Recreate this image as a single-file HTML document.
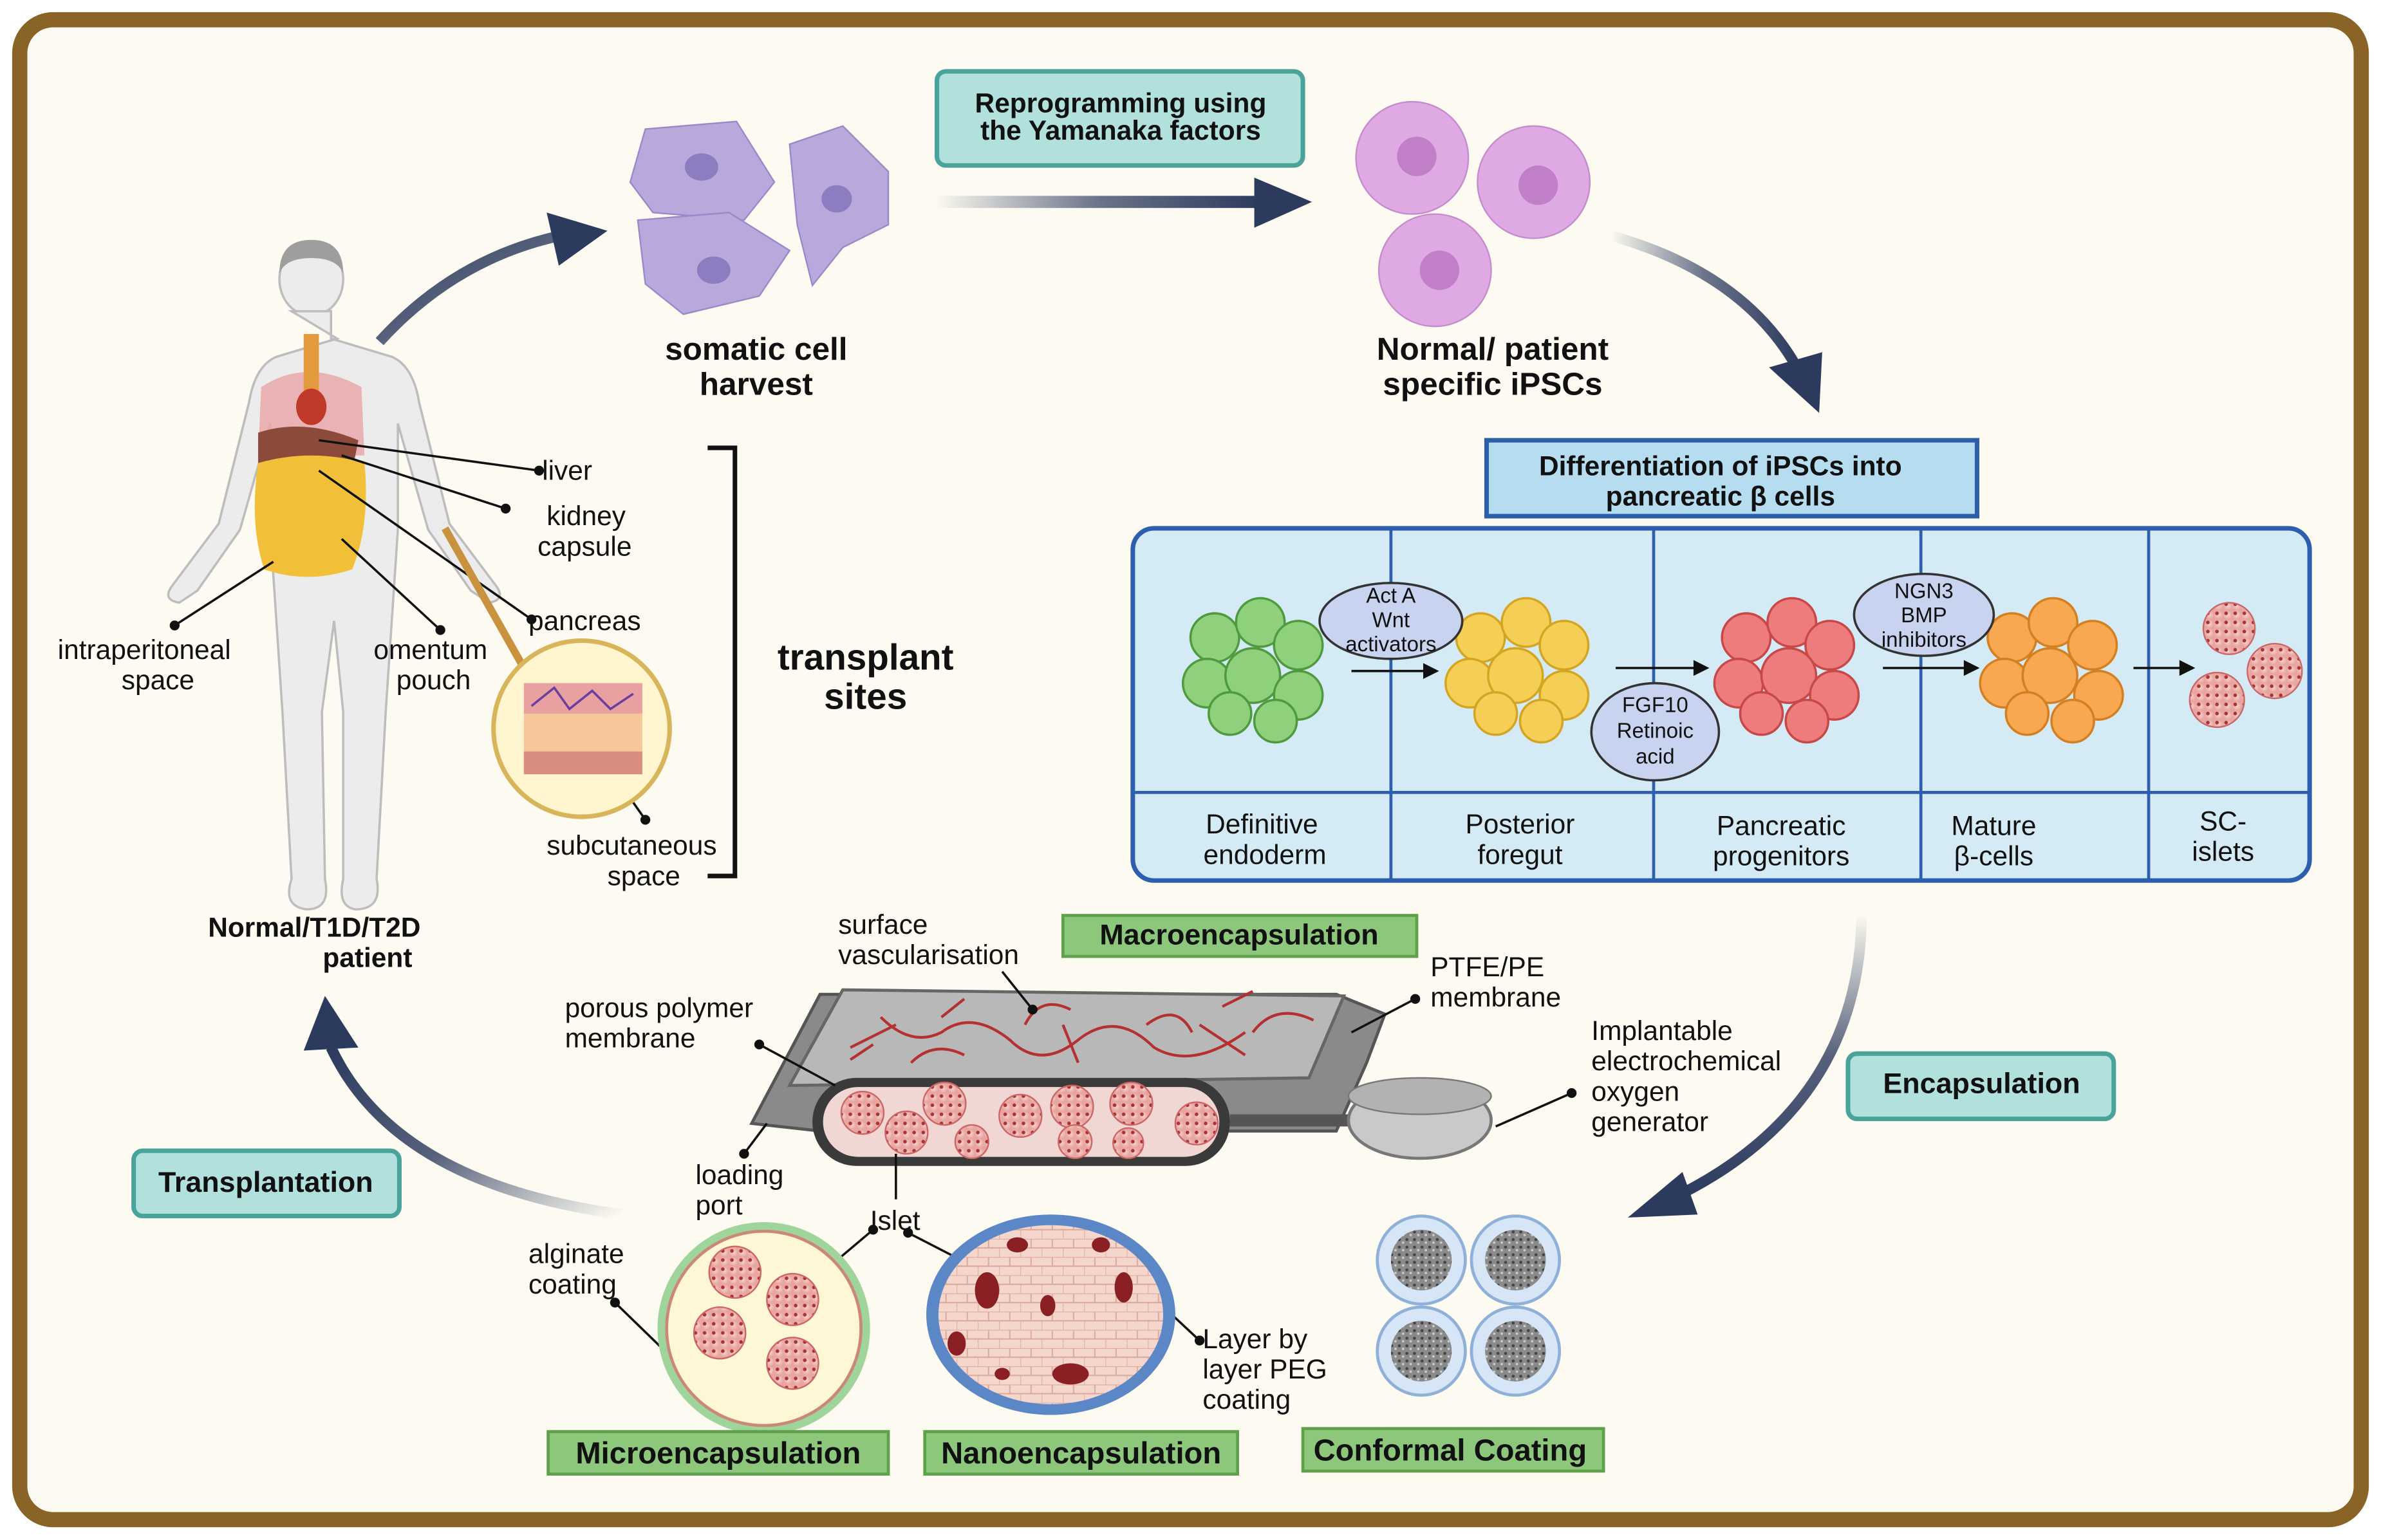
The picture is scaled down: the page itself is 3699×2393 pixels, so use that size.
<!DOCTYPE html>
<html><head><meta charset="utf-8"><style>
html,body{margin:0;padding:0;background:#fff}
svg{display:block}
text{font-family:"Liberation Sans",Arial,sans-serif;fill:#111}
.b{font-weight:bold}
</style></head><body>
<svg width="3699" height="2393" viewBox="0 0 1568 1014.4" xmlns="http://www.w3.org/2000/svg">
<defs>
<linearGradient id="ga" x1="0" x2="1" y1="0" y2="0"><stop offset="0" stop-color="#2c3a5e" stop-opacity="0"/><stop offset="0.5" stop-color="#2c3a5e" stop-opacity="0.7"/><stop offset="1" stop-color="#2c3a5e"/></linearGradient>
<linearGradient id="gv" x1="0" x2="0" y1="0" y2="1"><stop offset="0" stop-color="#2c3a5e" stop-opacity="0"/><stop offset="0.5" stop-color="#2c3a5e" stop-opacity="0.8"/><stop offset="1" stop-color="#2c3a5e"/></linearGradient>
<linearGradient id="gl" x1="1" x2="0" y1="1" y2="0"><stop offset="0" stop-color="#2c3a5e" stop-opacity="0"/><stop offset="0.5" stop-color="#2c3a5e" stop-opacity="0.8"/><stop offset="1" stop-color="#2c3a5e"/></linearGradient>
<radialGradient id="islet"><stop offset="0" stop-color="#f6d3d0"/><stop offset="1" stop-color="#e8a5a0"/></radialGradient>
<pattern id="dots" width="6" height="6" patternUnits="userSpaceOnUse"><rect width="6" height="6" fill="url(#islet)"/><circle cx="2" cy="2" r="1.2" fill="#a33"/></pattern>
<pattern id="cells" width="14" height="12" patternUnits="userSpaceOnUse"><rect width="14" height="12" fill="#f4d6cc"/><path d="M0 0 h14 M0 6 h14 M7 0 v6 M0 6 v6" stroke="#d9a89a" stroke-width="0.8" fill="none"/></pattern>
<pattern id="grey" width="5" height="5" patternUnits="userSpaceOnUse"><rect width="5" height="5" fill="#8a8a8a"/><circle cx="1.5" cy="1.5" r="1" fill="#444"/><circle cx="4" cy="3.5" r="0.8" fill="#ccc"/></pattern>
</defs>
<rect x="0" y="0" width="1568" height="1014.4" fill="#fff"/>
<rect x="13" y="13" width="1542" height="988" rx="22" fill="#fdfbf1" stroke="#8a6327" stroke-width="10"/>

<!-- human -->
<g fill="#ececec" stroke="#bdbdbd" stroke-width="1.5">
<ellipse cx="205" cy="184" rx="21" ry="24"/>
<path d="M192 205 h26 v18 l40 12 q14 6 18 30 l20 80 l30 40 q8 10 -4 12 l-12 -8 l-28 -40 l-20 -70 v70 l-8 120 l-6 110 q4 20 -14 20 q-12 -2 -8 -20 l0 -110 l-6 -60 l-8 60 l2 110 q4 20 -12 20 q-16 -2 -10 -20 l-6 -110 l-8 -120 v-70 l-20 70 l-28 40 l-12 8 q-12 -2 -4 -12 l30 -40 l20 -80 q4 -24 18 -30 l40 -12z"/>
</g>
<path d="M184 180 q0 -22 21 -22 q21 0 21 22 q-4 -10 -21 -10 q-17 0 -21 10z" fill="#9e9e9e"/>
<path d="M172 255 q30 -20 66 0 l2 45 h-70z" fill="#e9a5a8" opacity=".8"/>
<rect x="200" y="220" width="10" height="50" fill="#e29a3c"/>
<path d="M170 285 q30 -10 66 5 l-4 20 q-30 5 -62 -5z" fill="#8b4a3a"/>
<path d="M170 305 q35 -10 70 0 q4 40 -8 70 q-30 10 -58 0 q-10 -30 -4 -70z" fill="#f2c038"/>
<ellipse cx="205" cy="268" rx="10" ry="12" fill="#c0392b"/>

<g stroke="#111" stroke-width="1.5" fill="#111">
<line x1="210" y1="290" x2="355" y2="310"/><circle cx="355" cy="310" r="2.5"/>
<line x1="225" y1="300" x2="333" y2="335"/><circle cx="333" cy="335" r="2.5"/>
<line x1="210" y1="310" x2="350" y2="408"/><circle cx="350" cy="408" r="2.5"/>
<line x1="180" y1="370" x2="115" y2="412"/><circle cx="115" cy="412" r="2.5"/>
<line x1="225" y1="355" x2="290" y2="415"/><circle cx="290" cy="415" r="2.5"/>
<line x1="390" y1="490" x2="425" y2="540"/><circle cx="425" cy="540" r="2.5"/>
</g>
<line x1="293" y1="348" x2="345" y2="440" stroke="#c9923e" stroke-width="5"/>
<circle cx="383" cy="480" r="58" fill="#fff5cf" stroke="#d8b45a" stroke-width="3"/>
<rect x="345" y="450" width="78" height="60" fill="#f5c79b"/>
<rect x="345" y="450" width="78" height="20" fill="#e8a0a0"/>
<rect x="345" y="495" width="78" height="15" fill="#d98c80"/>
<path d="M350 465 l15 -12 l10 14 l15 -12 l12 12 l15 -10" stroke="#6a3ea0" stroke-width="1.5" fill="none"/>

<g font-size="18" text-anchor="start">
<text x="357" y="316">liver</text>
<text x="360" y="346">kidney</text><text x="354" y="366">capsule</text>
<text x="348" y="415">pancreas</text>
<text x="38" y="434">intraperitoneal</text><text x="80" y="454">space</text>
<text x="246" y="434">omentum</text><text x="261" y="454">pouch</text>
<text x="360" y="563">subcutaneous</text><text x="400" y="583">space</text>
</g>
<path d="M466 295 h18 v282 h-18" fill="none" stroke="#111" stroke-width="3"/>
<text x="570" y="441" font-size="24" class="b" text-anchor="middle">transplant</text>
<text x="570" y="467" font-size="24" class="b" text-anchor="middle">sites</text>
<text x="207" y="617" font-size="18" class="b" text-anchor="middle">Normal/T1D/T2D</text>
<text x="242" y="637" font-size="18" class="b" text-anchor="middle">patient</text>

<path d="M250 225 Q300 170 370 155" stroke="url(#gl)" stroke-width="7" fill="none"/>
<path d="M360 140 L400 152 L368 175z" fill="#2c3a5e"/>
<rect x="615" y="129" width="215" height="8" fill="url(#ga)"/>
<path d="M826 117 L864 133 L826 150z" fill="#2c3a5e"/>
<path d="M1060 155 Q1150 180 1185 245" stroke="url(#ga)" stroke-width="7" fill="none"/>
<path d="M1165 242 L1198 272 L1200 232z" fill="#2c3a5e"/>
<path d="M1226 602 Q1225 730 1100 790" stroke="url(#gv)" stroke-width="7" fill="none"/>
<path d="M1108 772 L1072 802 L1118 800z" fill="#2c3a5e"/>
<path d="M410 800 Q260 780 218 690" stroke="url(#gl)" stroke-width="7" fill="none"/>
<path d="M200 692 L214 656 L236 690z" fill="#2c3a5e"/>

<g fill="#b8a8dc" stroke="#9a88c8">
<path d="M425 85 l60 -5 l25 40 l-20 25 l-60 -5 l-15 -20z"/>
<path d="M520 95 l35 -12 l30 30 l0 35 l-30 15 l-20 25 l-10 -40z"/>
<path d="M420 145 l60 -5 l40 25 l-20 30 l-50 12 l-25 -20z"/>
</g>
<g fill="#8c7cc0"><ellipse cx="462" cy="110" rx="11" ry="9"/><ellipse cx="551" cy="131" rx="10" ry="9"/><ellipse cx="470" cy="178" rx="11" ry="9"/></g>
<text x="498" y="237" font-size="21" class="b" text-anchor="middle">somatic cell</text>
<text x="498" y="260" font-size="21" class="b" text-anchor="middle">harvest</text>

<rect x="617" y="47" width="241" height="62" rx="6" fill="#b2e0dc" stroke="#4aa39b" stroke-width="3"/>
<text x="738" y="74" font-size="18" class="b" text-anchor="middle">Reprogramming using</text>
<text x="738" y="92" font-size="18" class="b" text-anchor="middle">the Yamanaka factors</text>

<g fill="#dfaae4" stroke="#c58bcc"><circle cx="930" cy="104" r="37"/><circle cx="1010" cy="120" r="37"/><circle cx="945" cy="178" r="37"/></g>
<g fill="#c07fc6"><circle cx="933" cy="103" r="13"/><circle cx="1013" cy="122" r="13"/><circle cx="948" cy="178" r="13"/></g>
<text x="983" y="237" font-size="21" class="b" text-anchor="middle">Normal/ patient</text>
<text x="983" y="260" font-size="21" class="b" text-anchor="middle">specific iPSCs</text>

<rect x="979" y="290" width="323" height="50" fill="#b6dcf0" stroke="#2d5fa8" stroke-width="3"/>
<text x="1133" y="313" font-size="18" class="b" text-anchor="middle">Differentiation of iPSCs into</text>
<text x="1133" y="333" font-size="18" class="b" text-anchor="middle">pancreatic β cells</text>
<rect x="746" y="348" width="775" height="232" rx="14" fill="#d4eaf5" stroke="#2e5fae" stroke-width="3"/>
<g stroke="#2e5fae" stroke-width="2"><line x1="916" y1="348" x2="916" y2="580"/><line x1="1089" y1="348" x2="1089" y2="580"/><line x1="1265" y1="348" x2="1265" y2="580"/><line x1="1415" y1="348" x2="1415" y2="580"/><line x1="746" y1="522" x2="1521" y2="522"/></g>
<g font-size="18" text-anchor="middle">
<text x="831" y="549">Definitive</text><text x="833" y="569">endoderm</text>
<text x="1001" y="549">Posterior</text><text x="1001" y="569">foregut</text>
<text x="1173" y="550">Pancreatic</text><text x="1173" y="570">progenitors</text>
<text x="1313" y="550">Mature</text><text x="1313" y="570">β-cells</text>
<text x="1464" y="547">SC-</text><text x="1464" y="567">islets</text>
</g>
<g fill="#8fd07c" stroke="#4e9a3e" stroke-width="1.5">
<circle cx="800" cy="420" r="16"/><circle cx="830" cy="410" r="16"/><circle cx="855" cy="425" r="16"/><circle cx="795" cy="450" r="16"/><circle cx="825" cy="445" r="18"/><circle cx="855" cy="458" r="16"/><circle cx="810" cy="470" r="14"/><circle cx="840" cy="475" r="14"/></g>
<g fill="#f5cf55" stroke="#d4a520" stroke-width="1.5">
<circle cx="975" cy="420" r="16"/><circle cx="1005" cy="410" r="16"/><circle cx="1030" cy="425" r="16"/><circle cx="968" cy="450" r="16"/><circle cx="998" cy="445" r="18"/><circle cx="1030" cy="458" r="16"/><circle cx="985" cy="470" r="14"/><circle cx="1015" cy="475" r="14"/></g>
<g fill="#ef7c7c" stroke="#c84848" stroke-width="1.5">
<circle cx="1150" cy="420" r="16"/><circle cx="1180" cy="410" r="16"/><circle cx="1205" cy="425" r="16"/><circle cx="1145" cy="450" r="16"/><circle cx="1178" cy="445" r="18"/><circle cx="1208" cy="458" r="16"/><circle cx="1160" cy="470" r="14"/><circle cx="1190" cy="475" r="14"/></g>
<g fill="#f8a850" stroke="#d47f20" stroke-width="1.5">
<circle cx="1325" cy="420" r="16"/><circle cx="1352" cy="410" r="16"/><circle cx="1378" cy="425" r="16"/><circle cx="1320" cy="450" r="16"/><circle cx="1350" cy="445" r="18"/><circle cx="1382" cy="458" r="16"/><circle cx="1335" cy="470" r="14"/><circle cx="1365" cy="475" r="14"/></g>
<g fill="url(#dots)" stroke="#c66" stroke-width="1"><circle cx="1468" cy="414" r="17"/><circle cx="1460" cy="461" r="18"/><circle cx="1498" cy="442" r="18"/></g>
<g stroke="#111" stroke-width="1.5" fill="#111">
<line x1="890" y1="442" x2="940" y2="442"/><path d="M946 442 l-8 -4 v8z"/>
<line x1="1064" y1="440" x2="1118" y2="440"/><path d="M1124 440 l-8 -4 v8z"/>
<line x1="1240" y1="440" x2="1296" y2="440"/><path d="M1302 440 l-8 -4 v8z"/>
<line x1="1405" y1="440" x2="1438" y2="440"/><path d="M1444 440 l-8 -4 v8z"/>
</g>
<g fill="#c8d3ef" stroke="#333" stroke-width="1.5">
<ellipse cx="916" cy="409" rx="47" ry="25"/><ellipse cx="1090" cy="482" rx="42" ry="32"/><ellipse cx="1267" cy="405" rx="46" ry="27"/></g>
<g font-size="14" text-anchor="middle">
<text x="916" y="397">Act A</text><text x="916" y="413">Wnt</text><text x="916" y="429">activators</text>
<text x="1090" y="469">FGF10</text><text x="1090" y="486">Retinoic</text><text x="1090" y="503">acid</text>
<text x="1267" y="394">NGN3</text><text x="1267" y="410">BMP</text><text x="1267" y="426">inhibitors</text>
</g>

<path d="M540 655 L880 655 L912 668 L900 700 L880 745 L540 745 L495 740 Z" fill="#8a8a8a" stroke="#555" stroke-width="2"/>
<path d="M555 652 L885 656 L862 710 L520 715 Z" fill="#b8b8b8" stroke="#666" stroke-width="2"/>
<g stroke="#b53030" stroke-width="1.8" fill="none">
<path d="M580 670 q20 20 40 10 q20 -15 45 5 q20 20 45 0 q25 -20 50 5 q25 15 60 -10"/>
<path d="M600 700 q15 -15 35 -5 m40 -20 q10 -20 30 -10 m50 10 q20 -15 30 5 m40 0 q15 -20 40 -8"/>
<path d="M560 690 l30 -15 m200 0 l30 20 m-120 -20 l10 25 m-90 -30 l15 -12 m170 5 l20 -10 m-250 35 l-15 10"/>
</g>
<rect x="535" y="710" width="275" height="58" rx="29" fill="#3a3a3a"/>
<rect x="542" y="716" width="261" height="46" rx="23" fill="#f1d7d4"/>
<g fill="url(#dots)" stroke="#c66" stroke-width="1">
<circle cx="568" cy="733" r="14"/><circle cx="597" cy="746" r="14"/><circle cx="622" cy="727" r="14"/><circle cx="640" cy="752" r="11"/><circle cx="672" cy="735" r="14"/><circle cx="706" cy="729" r="14"/><circle cx="708" cy="752" r="11"/><circle cx="745" cy="727" r="14"/><circle cx="743" cy="753" r="10"/><circle cx="788" cy="740" r="14"/></g>
<rect x="810" y="734" width="80" height="8" fill="#555"/>
<ellipse cx="935" cy="738" rx="47" ry="25" fill="#c9c9c9" stroke="#777" stroke-width="2"/>
<ellipse cx="935" cy="722" rx="47" ry="12" fill="#b2b2b2" stroke="#777"/>
<rect x="700" y="603" width="233" height="27" fill="#8dc77b" stroke="#5fa14b" stroke-width="2"/>
<text x="816" y="622" font-size="19" class="b" text-anchor="middle">Macroencapsulation</text>
<g font-size="18">
<text x="552" y="615">surface</text><text x="552" y="635">vascularisation</text>
<text x="372" y="670">porous polymer</text><text x="372" y="690">membrane</text>
<text x="942" y="643">PTFE/PE</text><text x="942" y="663">membrane</text>
<text x="1048" y="685">Implantable</text><text x="1048" y="705">electrochemical</text><text x="1048" y="725">oxygen</text><text x="1048" y="745">generator</text>
<text x="458" y="780">loading</text><text x="458" y="800">port</text>
<text x="573" y="810">Islet</text>
<text x="348" y="832">alginate</text><text x="348" y="852">coating</text>
<text x="792" y="888">Layer by</text><text x="792" y="908">layer PEG</text><text x="792" y="928">coating</text>
</g>
<g stroke="#111" stroke-width="1.5" fill="#111">
<line x1="660" y1="640" x2="680" y2="665"/><circle cx="680" cy="665" r="2.5"/>
<line x1="500" y1="688" x2="550" y2="715"/><circle cx="500" cy="688" r="2.5"/>
<line x1="932" y1="658" x2="890" y2="680"/><circle cx="932" cy="658" r="2.5"/>
<line x1="1035" y1="720" x2="985" y2="742"/><circle cx="1035" cy="720" r="2.5"/>
<line x1="490" y1="760" x2="505" y2="740"/><circle cx="490" cy="760" r="2.5"/>
<line x1="590" y1="760" x2="590" y2="790"/>
<line x1="575" y1="810" x2="530" y2="848"/><circle cx="575" cy="810" r="2.5"/>
<line x1="598" y1="812" x2="695" y2="862"/><circle cx="598" cy="812" r="2.5"/>
<line x1="405" y1="858" x2="440" y2="892"/><circle cx="405" cy="858" r="2.5"/>
<line x1="790" y1="883" x2="760" y2="855"/><circle cx="790" cy="883" r="2.5"/>
</g>

<circle cx="503" cy="875" r="70" fill="#9fd49a"/>
<circle cx="503" cy="875" r="64" fill="#fdf7d6" stroke="#c87" stroke-width="2"/>
<g fill="url(#dots)" stroke="#c66"><circle cx="484" cy="838" r="17"/><circle cx="522" cy="856" r="17"/><circle cx="474" cy="878" r="17"/><circle cx="522" cy="898" r="17"/></g>
<ellipse cx="692" cy="866" rx="82" ry="66" fill="#5b87c7"/>
<ellipse cx="692" cy="866" rx="74" ry="59" fill="url(#cells)"/>
<g fill="#8a1f24"><ellipse cx="650" cy="850" rx="8" ry="12"/><ellipse cx="705" cy="905" rx="12" ry="7"/><ellipse cx="740" cy="848" rx="6" ry="10"/><ellipse cx="670" cy="820" rx="7" ry="5"/><ellipse cx="630" cy="885" rx="6" ry="8"/><ellipse cx="725" cy="820" rx="6" ry="5"/><ellipse cx="690" cy="860" rx="5" ry="7"/><ellipse cx="660" cy="905" rx="5" ry="4"/></g>
<g fill="#d6e6f7" stroke="#8fb0d8" stroke-width="2"><circle cx="936" cy="830" r="29"/><circle cx="998" cy="830" r="29"/><circle cx="936" cy="890" r="29"/><circle cx="998" cy="890" r="29"/></g>
<g fill="url(#grey)"><circle cx="936" cy="830" r="20"/><circle cx="998" cy="830" r="20"/><circle cx="936" cy="890" r="20"/><circle cx="998" cy="890" r="20"/></g>

<rect x="361" y="943" width="224" height="28" fill="#8dc77b" stroke="#5fa14b" stroke-width="2"/>
<text x="473" y="964" font-size="20" class="b" text-anchor="middle">Microencapsulation</text>
<rect x="609" y="943" width="206" height="28" fill="#8dc77b" stroke="#5fa14b" stroke-width="2"/>
<text x="712" y="964" font-size="20" class="b" text-anchor="middle">Nanoencapsulation</text>
<rect x="858" y="941" width="198" height="28" fill="#8dc77b" stroke="#5fa14b" stroke-width="2"/>
<text x="955" y="962" font-size="20" class="b" text-anchor="middle">Conformal Coating</text>

<rect x="1217" y="694" width="175" height="43" rx="6" fill="#b2e0dc" stroke="#4aa39b" stroke-width="3"/>
<text x="1305" y="720" font-size="19" class="b" text-anchor="middle">Encapsulation</text>
<rect x="88" y="758" width="175" height="43" rx="6" fill="#b2e0dc" stroke="#4aa39b" stroke-width="3"/>
<text x="175" y="785" font-size="19" class="b" text-anchor="middle">Transplantation</text>
</svg>
</body></html>
